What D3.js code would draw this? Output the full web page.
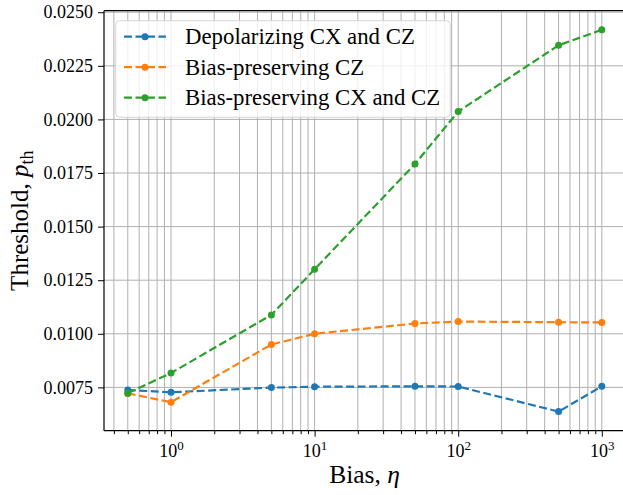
<html>
<head>
<script src="https://d3js.org/d3.v7.min.js"></script>
<style>
  body { margin: 0; background: white; }
  text { font-family: "Liberation Serif", "DejaVu Serif", serif; fill: #000; }
</style>
</head>
<body>
<div id="chart"></div>
<script>
// bias values (x) and thresholds
const bias = [0.5, 1, 5, 10, 50, 100, 500, 1000];
const depolarizing = [0.00738, 0.00727, 0.00749, 0.00753, 0.00755, 0.00754, 0.00637, 0.00755];
const biasCZ = [0.00722, 0.00681, 0.00950, 0.01000, 0.01048, 0.01057, 0.01054, 0.01053];
const biasCXCZ = [0.00723, 0.00817, 0.01088, 0.01301, 0.01792, 0.02037, 0.02346, 0.02418];
const seriesNames = ["Depolarizing CX and CZ", "Bias-preserving CZ", "Bias-preserving CX and CZ"];
const colors = ["#1f77b4", "#ff7f0e", "#2ca02c"];
const yTicks = [0.0075, 0.0100, 0.0125, 0.0150, 0.0175, 0.0200, 0.0225, 0.0250];
const xTicks = [1, 10, 100, 1000];

const W = 623, H = 495;
const mLeft = 104, mTop = 10.7, mRight = 625.5, mBottom = 430.7;

const svg = d3.select("#chart").append("svg")
  .attr("width", W).attr("height", H);

const x = d3.scaleLog().domain([0.3415, 1462]).range([mLeft, mRight]);
const y = d3.scaleLinear().domain([0.005479, 0.025071]).range([mBottom, mTop]);

// minor positions for the log axis
let minor = [];
for (let e = -1; e <= 3; e++) {
  for (let m = 2; m <= 9; m++) {
    const v = m * Math.pow(10, e);
    if (v > 0.3415 && v < 1462) minor.push(v);
  }
}

const grid = svg.append("g").attr("stroke", "#b0b0b0").attr("stroke-width", 1);
minor.concat(xTicks).forEach(v => {
  grid.append("line").attr("x1", x(v)).attr("x2", x(v)).attr("y1", mTop).attr("y2", mBottom);
});
yTicks.forEach(v => {
  grid.append("line").attr("x1", mLeft).attr("x2", mRight).attr("y1", y(v)).attr("y2", y(v));
});

// axes
const xAxis = svg.append("g").attr("transform", "translate(0," + mBottom + ")")
  .call(d3.axisBottom(x).tickValues(xTicks).tickSize(6).tickPadding(5).tickFormat(() => ""));
xAxis.select(".domain").remove();
const xMinor = svg.append("g").attr("transform", "translate(0," + mBottom + ")")
  .call(d3.axisBottom(x).tickValues(minor).tickSize(3.5).tickFormat(() => ""));
xMinor.select(".domain").remove();

xAxis.selectAll(".tick").each(function(d) {
  const t = d3.select(this).append("text")
    .attr("y", 26).attr("text-anchor", "middle")
    .style("font-size", "18px").attr("fill", "#000");
  t.append("tspan").text("10");
  t.append("tspan").attr("dy", -7).style("font-size", "13px").text(Math.round(Math.log10(d)));
});

const yAxis = svg.append("g").attr("transform", "translate(" + mLeft + ",0)")
  .call(d3.axisLeft(y).tickValues(yTicks).tickSize(6).tickPadding(5).tickFormat(d3.format(".4f")));
yAxis.select(".domain").remove();
yAxis.selectAll("text").style("font-size", "18px").attr("font-family", "Liberation Serif");

svg.selectAll(".tick line").attr("stroke", "#000").attr("stroke-width", 1);

// spines
svg.append("line").attr("x1", mLeft).attr("x2", mLeft).attr("y1", mTop).attr("y2", mBottom)
  .attr("stroke", "#000").attr("stroke-width", 1.2);
svg.append("line").attr("x1", mLeft).attr("x2", mRight).attr("y1", mBottom).attr("y2", mBottom)
  .attr("stroke", "#000").attr("stroke-width", 1.2);
svg.append("line").attr("x1", mLeft).attr("x2", mRight).attr("y1", mTop).attr("y2", mTop)
  .attr("stroke", "#000").attr("stroke-width", 1.2);

// series
const allSeries = [depolarizing, biasCZ, biasCXCZ];
const line = d3.line().x(d => x(d[0])).y(d => y(d[1]));
allSeries.forEach((vals, i) => {
  const pts = bias.map((b, j) => [b, vals[j]]);
  svg.append("path").datum(pts).attr("d", line)
    .attr("fill", "none").attr("stroke", colors[i]).attr("stroke-width", 2.2)
    .attr("stroke-dasharray", "8,3.5");
  svg.append("g").selectAll("circle").data(pts).enter().append("circle")
    .attr("cx", d => x(d[0])).attr("cy", d => y(d[1])).attr("r", 3.5)
    .attr("fill", colors[i]);
});

// legend
const lg = svg.append("g");
lg.append("rect").attr("x", 115.7).attr("y", 20.7).attr("width", 334.5).attr("height", 96.6)
  .attr("rx", 4).attr("fill", "white").attr("fill-opacity", 0.8)
  .attr("stroke", "#d6d6d6").attr("stroke-width", 1);
seriesNames.forEach((name, i) => {
  const ly = 36.7 + i * 30.5;
  lg.append("line").attr("x1", 124).attr("x2", 166).attr("y1", ly).attr("y2", ly)
    .attr("stroke", colors[i]).attr("stroke-width", 2.2).attr("stroke-dasharray", "8,3.5");
  lg.append("circle").attr("cx", 145).attr("cy", ly).attr("r", 3.5).attr("fill", colors[i]);
  lg.append("text").attr("x", 185).attr("y", ly + 7.5).style("font-size", "22.8px").text(name);
});

// axis labels
const xl = svg.append("text").attr("x", 364.5).attr("y", 483).attr("text-anchor", "middle")
  .style("font-size", "25.5px");
xl.append("tspan").text("Bias, ");
xl.append("tspan").style("font-style", "italic").text("η");

const yl = svg.append("text").attr("transform", "translate(28," + ((mTop + mBottom) / 2) + ") rotate(-90)")
  .attr("text-anchor", "middle").style("font-size", "25px");
yl.append("tspan").text("Threshold, ");
yl.append("tspan").style("font-style", "italic").text("p");
yl.append("tspan").attr("dy", 5).style("font-size", "18px").text("th");
</script>
</body>
</html>
